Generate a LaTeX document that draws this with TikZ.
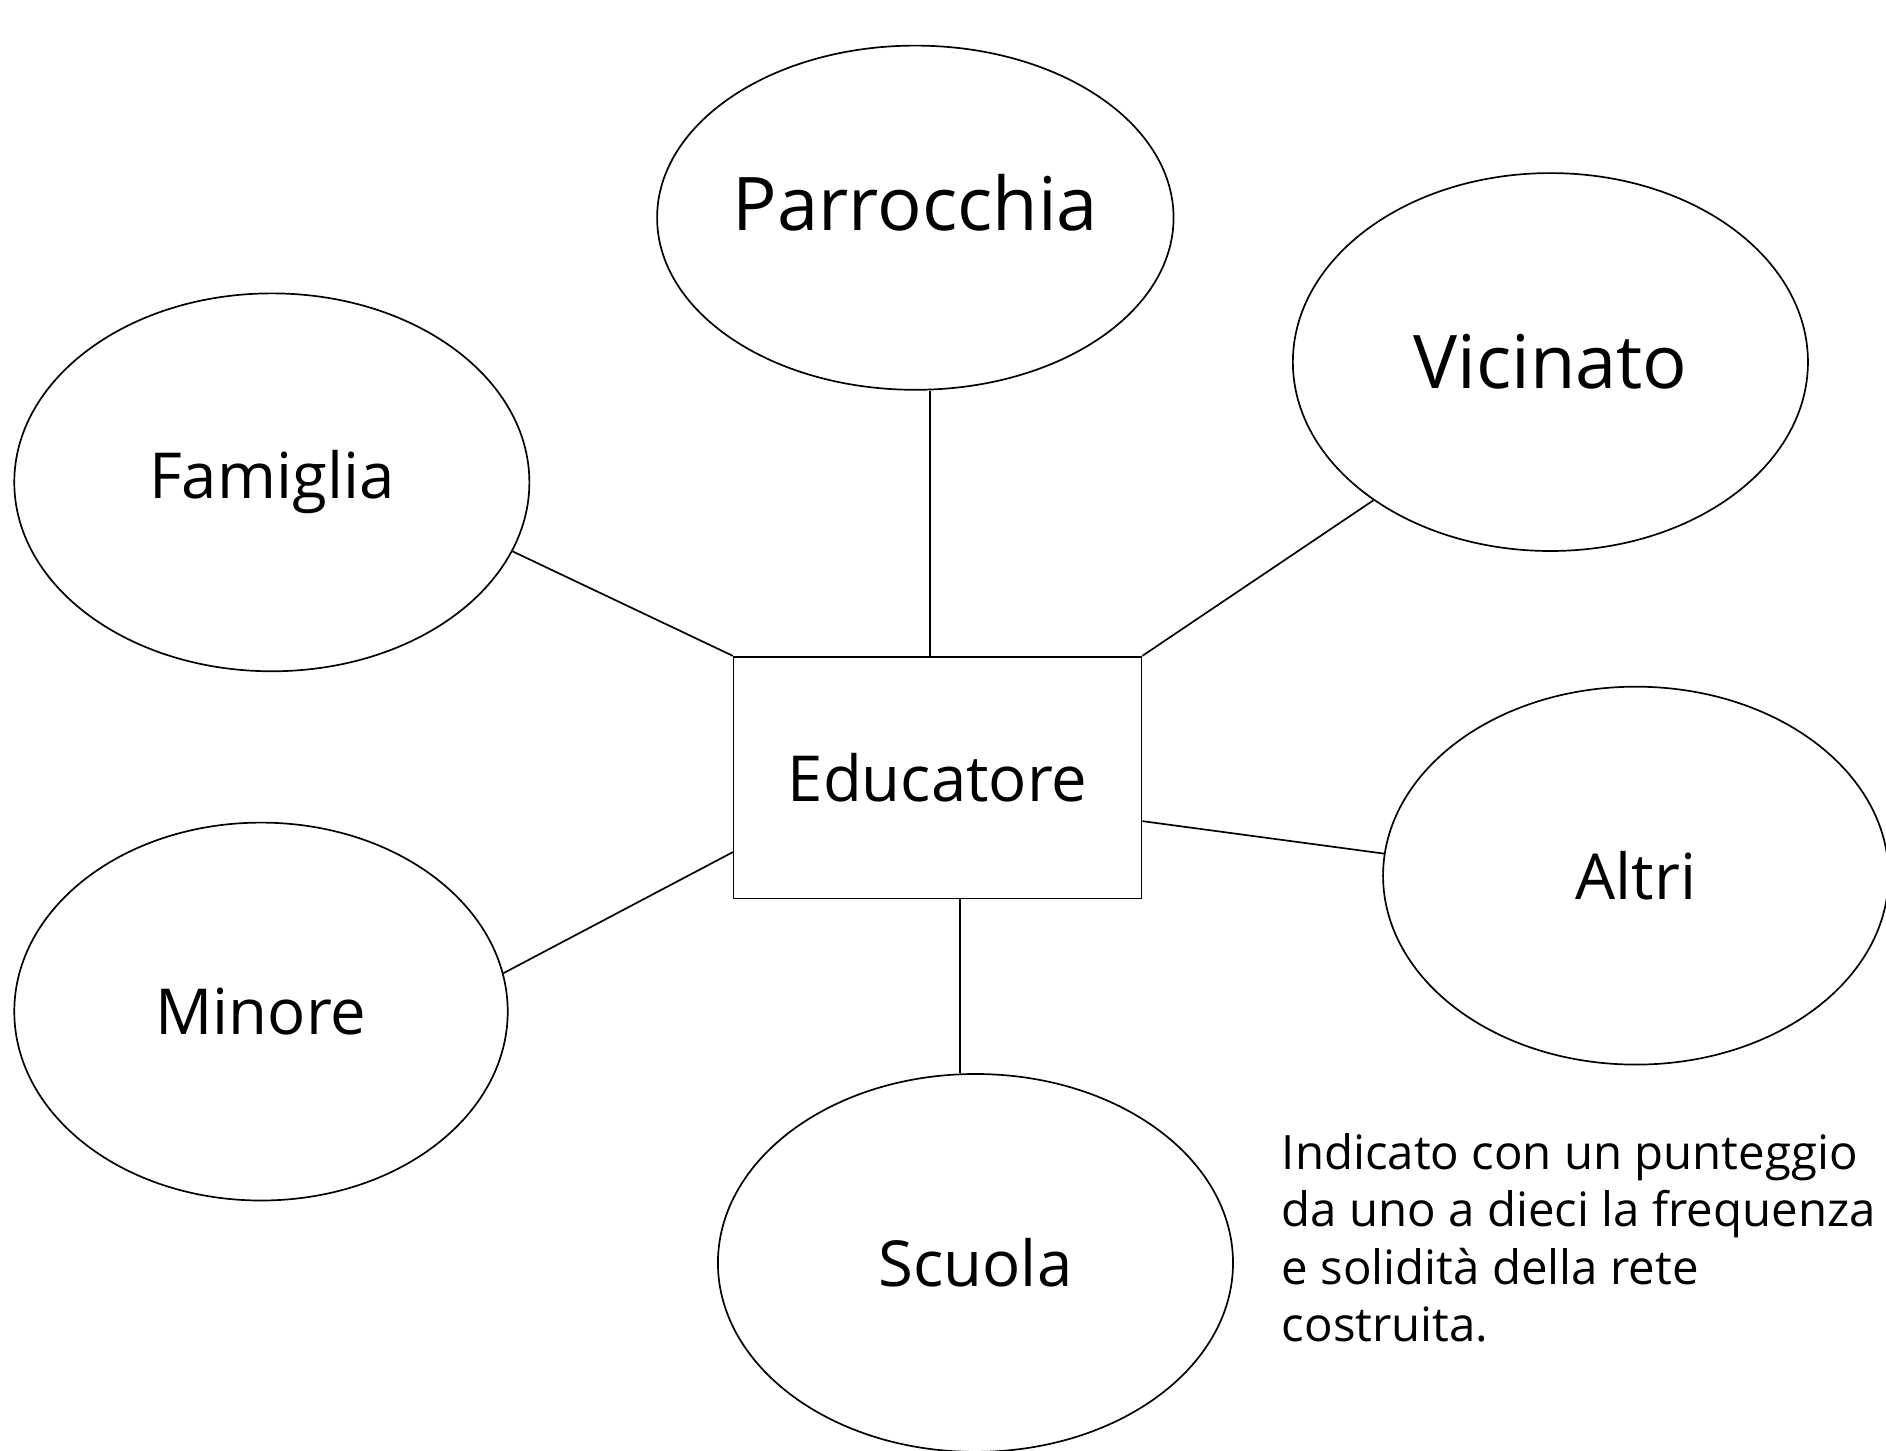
\documentclass[tikz,border=0pt]{standalone}
\usepackage{fontspec}
\setmainfont{Open Sans}
\usetikzlibrary{shapes.geometric}

\begin{document}
\begin{tikzpicture}[x=0.01cm,y=-0.01cm]
\tikzstyle{every node}+=[inner sep=0pt]
\tikzstyle{luogo}=[draw=black,ellipse,minimum width=4.28cm,minimum height=3.14cm,font=\fontsize{15}{18}\selectfont]
\tikzstyle{grande}=[font=\fontsize{17.5}{21}\selectfont]
\tikzstyle{centro}=[draw=black,rectangle,minimum width=3.39cm,minimum height=2.01cm,font=\fontsize{15}{18}\selectfont]
\useasboundingbox (0,0) rectangle (1568,1206);
\node [luogo,grande,minimum height=2.86cm,text depth=0.26cm] (par) at (761,181) {Parrocchia};
\node [luogo,grande] (vic) at (1289,301) {Vicinato};
\node [luogo] (fam) at (226,401) {Famiglia};
\node [luogo,minimum width=4.2cm] (alt) at (1360,728) {Altri};
\node [luogo,minimum width=4.1cm] (min) at (217,841) {Minore};
\node [luogo] (scu) at (811,1050) {Scuola};
\node [centro] (edu) at (779.5,646.5) {Educatore};
\node [anchor=north west,align=left,font=\fontsize{11.2}{13.5}\selectfont] (nota) at (1065,942) {Indicato con un punteggio\\da uno a dieci la frequenza\\e solidità della rete\\costruita.};
\draw (edu.north west) -- (fam.-16);
\draw ([xshift=-0.065cm]edu.north) -- ([xshift=-0.065cm]edu.north |- par.south);
\draw (edu.north east) -- (vic.218);
\draw (edu.-12.5) -- (alt.175);
\draw (edu.200.5) -- (min.9);
\draw ([xshift=0.185cm]edu.south) -- ([xshift=0.185cm]edu.south |- scu.north);
\end{tikzpicture}
\end{document}
